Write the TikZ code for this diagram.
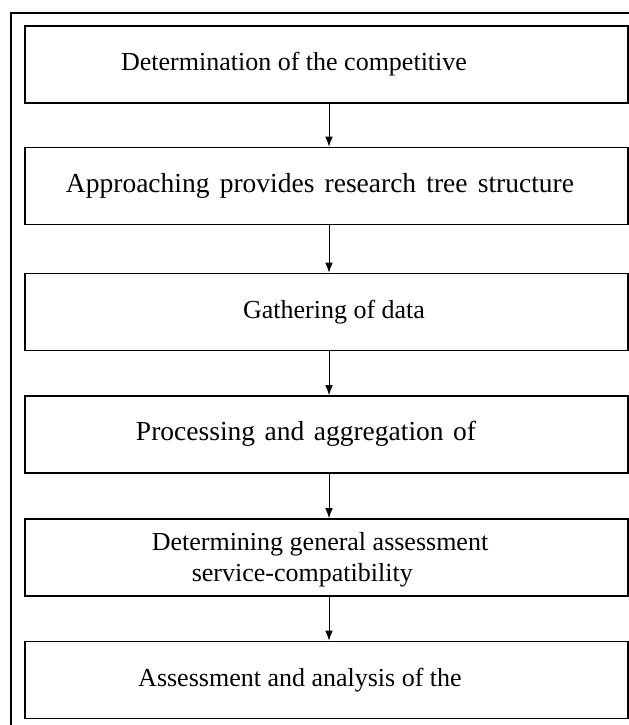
\documentclass[tikz,border=0pt]{standalone}
\usepackage{fontspec}
\setmainfont{Liberation Serif}
\usepackage{xcolor}
\usepackage{tikz}
\usetikzlibrary{arrows.meta, positioning}
\tikzstyle{stage} = [rectangle, draw, line width=1.6bp, minimum width=603bp, minimum height=77bp, inner sep=0pt]
\tikzstyle{caption} = [inner sep=0pt, font=\fontsize{26bp}{31bp}\selectfont]
\tikzstyle{widecaption} = [inner sep=0pt, font=\fontsize{27.5bp}{32bp}\selectfont]
\tikzstyle{arrow} = [-{Latex[length=10bp,width=7.5bp]}, line width=0.9bp]

\begin{document}
\begin{tikzpicture}[x=1bp, y=-1bp]
                \useasboundingbox (0,0) rectangle (629,725);
                \draw[line width=1.6bp] (11,725) -- (11,13) -- (629,13);
                \node[stage] (b1) at (326.5,64.5) {};
                \node[stage] (b2) at (326.5,186) {};
                \node[stage] (b3) at (326.5,312) {};
                \node[stage] (b4) at (326.5,434.5) {};
                \node[stage] (b5) at (326.5,557.5) {};
                \node[stage] (b6) at (326.5,680) {};
                \node[caption] (t1) at (294,64) {Determination of the competitive};
                \node[widecaption] (t2) at (320,186) {\makebox[508bp][s]{Approaching provides research tree structure}};
                \node[caption] (t3) at (334,312) {Gathering of data};
                \node[widecaption] (t4) at (306,434) {\makebox[340bp][s]{Processing and aggregation of}};
                \node[caption, align=left] (t5) at (320,560) {Determining general assessment\\\hspace*{40bp}service-compatibility};
                \node[caption] (t6) at (300,680) {Assessment and analysis of the};
                \draw[arrow] ([xshift=2.5bp]b1.south) -- ([xshift=2.5bp]b2.north);
                \draw[arrow] ([xshift=2.5bp]b2.south) -- ([xshift=2.5bp]b3.north);
                \draw[arrow] ([xshift=2.5bp]b3.south) -- ([xshift=2.5bp]b4.north);
                \draw[arrow] ([xshift=2.5bp]b4.south) -- ([xshift=2.5bp]b5.north);
                \draw[arrow] ([xshift=2.5bp]b5.south) -- ([xshift=2.5bp]b6.north);
            \end{tikzpicture}
\end{document}
